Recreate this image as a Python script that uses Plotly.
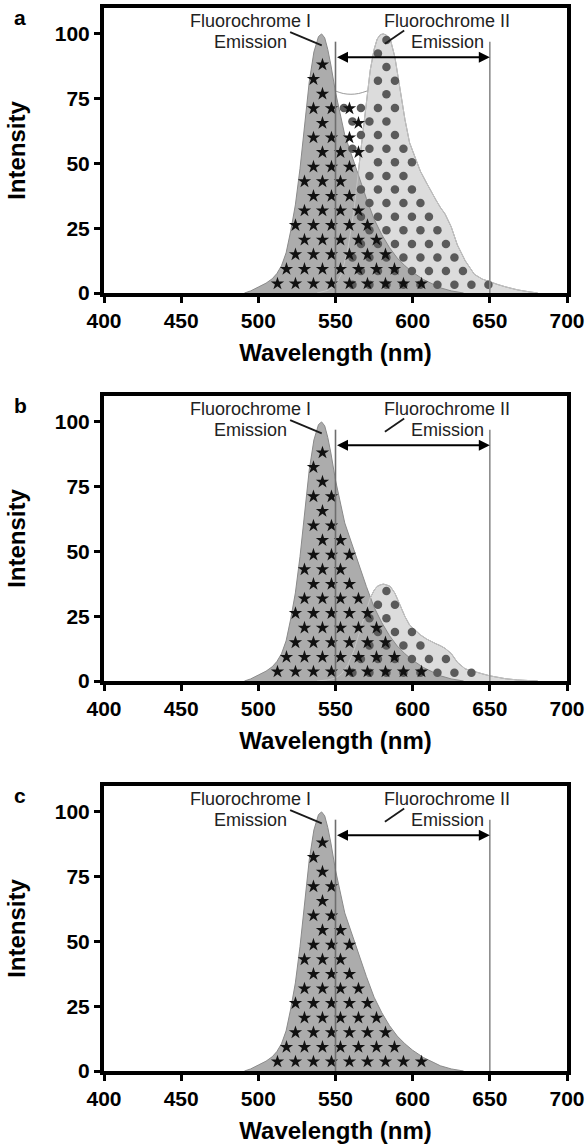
import numpy as np
import plotly.graph_objects as go

# ---------------- data ----------------
wl_f1 = [491, 495, 500, 505, 509, 512, 515, 518, 521, 524, 527, 530, 533, 536, 539, 541,
         543, 545, 547, 550, 553, 556, 560, 565, 570, 575, 580, 585, 590, 595, 600, 607,
         612, 618, 625, 633]
int_f1 = [0, 0.8, 2.3, 3.8, 5.5, 7.5, 10.5, 15.5, 24, 34, 48, 64.5, 81.5, 93, 99, 100,
          98.5, 94, 88, 77.5, 69, 61, 54, 45, 36.5, 28.5, 22.5, 17.5, 13.5, 10.5, 8, 5.2,
          3.8, 2, 0.8, 0]

wl_f2 = [538, 545, 550, 554, 558, 562, 566, 568, 570, 572.5, 575, 577, 579, 581, 583,
         585.5, 588.5, 591.5, 595, 598, 602, 605, 609, 612, 615, 618, 621, 625, 629, 634,
         640, 645, 650, 655, 660, 668, 675, 681]
int_f2_a = [0, 1, 3, 7.5, 17, 32, 53, 63, 75, 86, 94, 98, 99.7, 100, 99.5, 98, 91, 80, 67,
            58, 51.5, 47, 42.5, 39, 36, 33, 30.5, 25.5, 18.5, 12.5, 7.2, 5.4, 4.2, 3.3, 2.4,
            1.2, 0.5, 0]
int_f2_b = [0, 0.4, 1.1, 2.8, 6.3, 11.9, 19.7, 23.4, 27.9, 32, 35, 36.5, 37.1, 37.4, 37.1,
            36.5, 33.9, 29.8, 24.9, 21.6, 19.4, 17.8, 16.2, 15.2, 14.4, 13.6, 12.6, 10.6,
            7.2, 4.7, 3.5, 2.8, 2.0, 1.4, 0.9, 0.4, 0.15, 0]

# odd white gap outline between the two peaks in panel a
bridge_wl = [549.8, 555, 560, 565, 570.6]
bridge_int = [78, 77, 76.7, 77, 78]

x_ticks = [400, 450, 500, 550, 600, 650, 700]
y_ticks = [0, 25, 50, 75, 100]
panel_labels = ["a", "b", "c"]
band_edges = [550, 650]        # detection band
band_top = 97
arrow_level = 91
label_I = ["Fluorochrome I", "Emission"]
label_II = ["Fluorochrome II", "Emission"]
label_I_pos = [495, 105, 97]
label_II_pos = [622.5, 105, 97]
leader_I = [[520.6, 100.7], [541.1, 95.6]]
leader_II = [[582, 96.2], [594.5, 101.3]]

panels = [
    dict(f2=int_f2_a, bridge=True),
    dict(f2=int_f2_b, bridge=False),
    dict(f2=None, bridge=False),
]

# ---------------- geometry ----------------
W, H = 588, 1147
L, R = 104, 567
TOPS = [8, 396, 786]
PH = 285
XR = [400, 700]
YR = [0, 110]
pxx = (R - L) / (XR[1] - XR[0])
pxy = PH / (YR[1] - YR[0])

FONT = "Liberation Sans, Arial, Helvetica, sans-serif"
F1_FILL, F2_FILL = "#acacac", "#dcdcdc"
OUTLINE = "#8a8a8a"


def lattice(x0, y0, dxp, dyp):
    dx, dy = dxp / pxx, dyp / pxy
    pts = []
    j = 0
    y = y0
    while y < YR[1]:
        off = dx / 2 if j % 2 else 0.0
        k0 = int(np.floor((XR[0] - x0 - off) / dx))
        k1 = int(np.ceil((XR[1] - x0 - off) / dx))
        for k in range(k0, k1 + 1):
            pts.append((x0 + off + k * dx, y))
        y += dy
        j += 1
    return np.array(pts)


def inside(pts, xs, ys, rpx=2.8):
    rx, ry = rpx / pxx, rpx / pxy
    px, py = pts[:, 0], pts[:, 1]
    f = lambda v: np.interp(v, xs, ys, left=0, right=0)
    return (f(px) > py + ry * 0.6) & (f(px - rx) > py) & (f(px + rx) > py)


star_grid = lattice(512.4, 3.6, 18.0, 14.6)
dot_grid = lattice(583.0, 3.2, 17.0, 13.6)

fig = go.Figure()
layout = dict(width=W, height=H, margin=dict(l=0, r=0, t=0, b=0, autoexpand=False),
              plot_bgcolor="white", paper_bgcolor="white", showlegend=False,
              annotations=[], shapes=[])

tickfont = dict(family=FONT, size=21, color="black", weight="bold")
titlefont = dict(family=FONT, size=24, color="black", weight="bold")
textfont = dict(family=FONT, size=18, color="#222222")

for i, p in enumerate(panels):
    s = "" if i == 0 else str(i + 1)
    xa, ya = "x" + s, "y" + s
    top = TOPS[i]
    layout["xaxis" + s] = dict(
        domain=[L / W, R / W], range=XR, anchor=ya, tickvals=x_ticks,
        ticks="outside", ticklen=6, tickwidth=3, tickcolor="black",
        showline=True, linewidth=4, linecolor="black", mirror=True, automargin=False,
        showgrid=False, zeroline=False, tickfont=tickfont,
        title=dict(text="Wavelength (nm)", font=titlefont, standoff=14))
    layout["yaxis" + s] = dict(
        domain=[1 - (top + PH) / H, 1 - top / H], range=YR, anchor=xa,
        tickvals=y_ticks, ticks="outside", ticklen=6, tickwidth=3, tickcolor="black",
        showline=True, linewidth=4, linecolor="black", mirror=True, automargin=False,
        showgrid=False, zeroline=False, tickfont=tickfont,
        title=dict(text="Intensity", font=titlefont, standoff=23))

    f2 = p["f2"]
    if f2 is not None:
        fig.add_trace(go.Scatter(x=wl_f2, y=f2, xaxis=xa, yaxis=ya, mode="lines",
                                 fill="tozeroy", fillcolor=F2_FILL,
                                 line=dict(color=OUTLINE, width=1), hoverinfo="skip"))
    fig.add_trace(go.Scatter(x=wl_f1, y=int_f1, xaxis=xa, yaxis=ya, mode="lines",
                             fill="tozeroy", fillcolor=F1_FILL,
                             line=dict(color=OUTLINE, width=1), hoverinfo="skip"))
    if f2 is not None:
        fig.add_trace(go.Scatter(x=wl_f2, y=f2, xaxis=xa, yaxis=ya, mode="lines",
                                 line=dict(color="#c4c4c4", width=1), hoverinfo="skip"))

    star_mask = inside(star_grid, wl_f1, int_f1)
    dot_mask = inside(dot_grid, wl_f2, f2) if f2 is not None else np.zeros(len(dot_grid), bool)
    if p["bridge"]:
        fig.add_trace(go.Scatter(x=bridge_wl, y=bridge_int, xaxis=xa, yaxis=ya,
                                 mode="lines", line=dict(color="#9a9a9a", width=1,
                                                         shape="spline"),
                                 hoverinfo="skip"))
        def gap(pts):
            px, py = pts[:, 0], pts[:, 1]
            b = np.interp(px, bridge_wl, bridge_int)
            f1v = np.interp(px, wl_f1, int_f1, left=0, right=0)
            f2v = np.interp(px, wl_f2, f2, left=0, right=0)
            return ((px > bridge_wl[0] + 3) & (px < bridge_wl[-1] - 3) &
                    (py < b - 2.0) & (py > f1v + 2.0) & (py > f2v + 2.0))
        star_mask |= gap(star_grid)
        dot_mask |= gap(dot_grid)

    if dot_mask.any():
        fig.add_trace(go.Scatter(x=dot_grid[dot_mask, 0], y=dot_grid[dot_mask, 1],
                                 xaxis=xa, yaxis=ya, mode="markers",
                                 marker=dict(symbol="circle", size=8.5, color="#5a5a5a",
                                             line=dict(width=0)), hoverinfo="skip"))
    fig.add_trace(go.Scatter(x=star_grid[star_mask, 0], y=star_grid[star_mask, 1],
                             xaxis=xa, yaxis=ya, mode="markers",
                             marker=dict(symbol="star", size=10, color="#111111",
                                         line=dict(width=0)), hoverinfo="skip"))

    for k, e in enumerate(band_edges):
        layout["shapes"].append(dict(type="line", xref=xa, yref=ya, x0=e, x1=e, y0=0,
                                     y1=band_top, layer="above",
                                     line=dict(color="#6e6e6e" if k == 0 else "#8c8c8c",
                                               width=1.6)))
    for ld in (leader_I, leader_II):
        layout["shapes"].append(dict(type="line", xref=xa, yref=ya,
                                     x0=ld[0][0], y0=ld[0][1], x1=ld[1][0], y1=ld[1][1],
                                     layer="above", line=dict(color="#1a1a1a", width=1.8)))
    layout["annotations"].append(dict(
        xref=xa, yref=ya, axref=xa, ayref=ya, x=band_edges[1], y=arrow_level,
        ax=band_edges[0], ay=arrow_level, text="", showarrow=True,
        arrowside="end+start", arrowhead=2, startarrowhead=2, arrowsize=1.1,
        startarrowsize=1.1, arrowwidth=2, arrowcolor="black", standoff=0,
        startstandoff=0))
    for lab, pos in ((label_I, label_I_pos), (label_II, label_II_pos)):
        for t, yy in zip(lab, pos[1:]):
            layout["annotations"].append(dict(
                xref=xa, yref=ya, x=pos[0], y=yy, text=t, showarrow=False,
                xanchor="center", yanchor="middle", font=textfont))
    layout["annotations"].append(dict(
        xref="paper", yref="paper", x=20 / W, y=1 - (top + 9) / H, text=panel_labels[i],
        showarrow=False, xanchor="center", yanchor="middle",
        font=dict(family=FONT, size=21, color="black", weight="bold")))

fig.update_layout(**layout)
fig.write_html(
    "out.html",
    config={"displayModeBar": False},
    post_script="document.body.style.margin='0';document.body.style.padding='0';"
                "document.body.style.overflow='hidden';",
)
